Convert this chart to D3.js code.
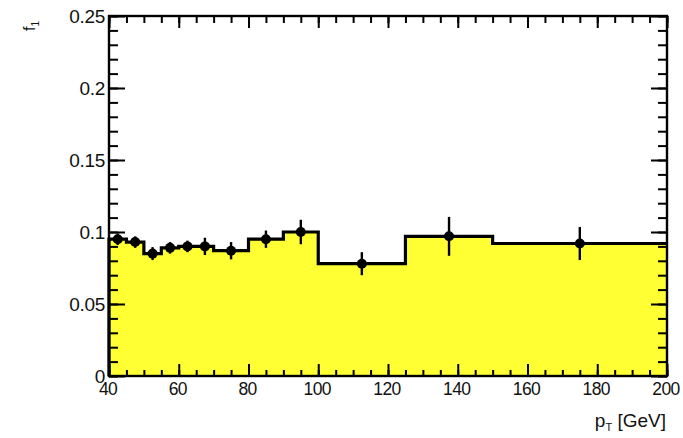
<!DOCTYPE html>
<html>
<head>
<meta charset="utf-8">
<script src="https://cdn.jsdelivr.net/npm/d3@7"></script>
<style>
  body { margin: 0; background: #fff; }
  text { font-family: "Liberation Sans", Arial, sans-serif; fill: #111; }
</style>
</head>
<body>
<div class="canvas"></div>
<script>
// DATA
var binEdges = [40, 45, 50, 55, 60, 65, 70, 80, 90, 100, 125, 150, 200];
var values   = [0.095, 0.093, 0.085, 0.089, 0.090, 0.090, 0.087, 0.095, 0.100, 0.078, 0.097, 0.092];
var errors   = [0.004, 0.004, 0.0045, 0.004, 0.004, 0.006, 0.006, 0.006, 0.0085, 0.008, 0.0135, 0.0115];
var xTicks = [40, 60, 80, 100, 120, 140, 160, 180, 200];
var yTicks = [0, 0.05, 0.1, 0.15, 0.2, 0.25];

// DIMENSIONS
var w = 683, h = 438;
var margin = { left: 109, top: 16, right: 16, bottom: 62 };
var width = w - margin.left - margin.right;
var height = h - margin.top - margin.bottom;

var svg = d3.select('.canvas').append('svg')
  .attr('width', w)
  .attr('height', h);

var g = svg.append('g')
  .attr('transform', 'translate(' + margin.left + ',' + margin.top + ')');

var x = d3.scaleLinear().domain([40, 200]).range([0, width]);
var y = d3.scaleLinear().domain([0, 0.25]).range([height, 0]);

// bins
var bins = values.map(function(v, i) {
  return { x0: binEdges[i], x1: binEdges[i + 1], v: v, e: errors[i] };
});

// filled histogram
var area = d3.area()
  .curve(d3.curveStepAfter)
  .x(function(d) { return x(d.x); })
  .y0(y(0))
  .y1(function(d) { return y(d.v); });

var steps = bins.map(function(b) { return { x: b.x0, v: b.v }; });
steps.push({ x: 200, v: values[values.length - 1] });

g.append('path')
  .datum(steps)
  .attr('d', area)
  .attr('fill', '#ffff33');

var line = d3.line()
  .curve(d3.curveStepAfter)
  .x(function(d) { return x(d.x); })
  .y(function(d) { return y(d.v); });

g.append('path')
  .datum([{ x: 40, v: 0 }].concat(steps))
  .attr('d', line)
  .attr('fill', 'none')
  .attr('stroke', '#000')
  .attr('stroke-width', 3.2);

// error bars + markers
var pts = g.append('g');
pts.selectAll('line')
  .data(bins)
  .enter().append('line')
  .attr('x1', function(d) { return x((d.x0 + d.x1) / 2); })
  .attr('x2', function(d) { return x((d.x0 + d.x1) / 2); })
  .attr('y1', function(d) { return y(d.v - d.e); })
  .attr('y2', function(d) { return y(d.v + d.e); })
  .attr('stroke', '#000')
  .attr('stroke-width', 2.4);

pts.selectAll('circle')
  .data(bins)
  .enter().append('circle')
  .attr('cx', function(d) { return x((d.x0 + d.x1) / 2); })
  .attr('cy', function(d) { return y(d.v); })
  .attr('r', 5)
  .attr('fill', '#000');

// AXES (ROOT style, ticks inside the frame on all four sides)
var xMinor = d3.range(40, 201, 5);
var yMinor = d3.range(0, 0.2501, 0.01);

function tickStyle(sel) {
  sel.select('.domain').remove();
  sel.selectAll('line').attr('stroke', '#000').attr('stroke-width', 2);
}

g.append('g').attr('transform', 'translate(0,' + height + ')')
  .call(d3.axisBottom(x).tickValues(xMinor).tickSize(-6).tickFormat('')).call(tickStyle);
g.append('g').attr('transform', 'translate(0,' + height + ')')
  .call(d3.axisBottom(x).tickValues(xTicks).tickSize(-12).tickPadding(14).tickFormat(d3.format('d')))
  .call(tickStyle)
  .selectAll('text').attr('font-size', 17.5).attr('letter-spacing', -0.6).attr('dy', '0.3em')
  .attr('dx', -1.5);

g.append('g')
  .call(d3.axisTop(x).tickValues(xMinor).tickSize(-7).tickFormat('')).call(tickStyle);
g.append('g')
  .call(d3.axisTop(x).tickValues(xTicks).tickSize(-12).tickFormat('')).call(tickStyle);

g.append('g')
  .call(d3.axisLeft(y).tickValues(yMinor).tickSize(-9).tickFormat('')).call(tickStyle);
g.append('g')
  .call(d3.axisLeft(y).tickValues(yTicks).tickSize(-16).tickPadding(4)
    .tickFormat(function(d) { return String(+d.toFixed(2)); }))
  .call(tickStyle)
  .selectAll('text').attr('font-size', 19).attr('letter-spacing', -0.3);

g.append('g').attr('transform', 'translate(' + width + ',0)')
  .call(d3.axisRight(y).tickValues(yMinor).tickSize(-9).tickFormat('')).call(tickStyle);
g.append('g').attr('transform', 'translate(' + width + ',0)')
  .call(d3.axisRight(y).tickValues(yTicks).tickSize(-16).tickFormat('')).call(tickStyle);

// FRAME
g.append('rect')
  .attr('width', width)
  .attr('height', height)
  .attr('fill', 'none')
  .attr('stroke', '#000')
  .attr('stroke-width', 2.4);

// AXIS TITLES
var xt = svg.append('text')
  .attr('x', margin.left + width - 1)
  .attr('y', 427)
  .attr('text-anchor', 'end')
  .attr('font-size', 19);
xt.append('tspan').text('p');
xt.append('tspan').attr('font-size', 11).attr('dy', 4).text('T');
xt.append('tspan').attr('dy', -4).text(' [GeV]');

var yt = svg.append('text')
  .attr('transform', 'translate(35,31) rotate(-90)')
  .attr('font-size', 16)
  .attr('fill', '#333');
yt.append('tspan').text('f');
yt.append('tspan').attr('font-size', 10).attr('dy', 4).text('1');
</script>
</body>
</html>
